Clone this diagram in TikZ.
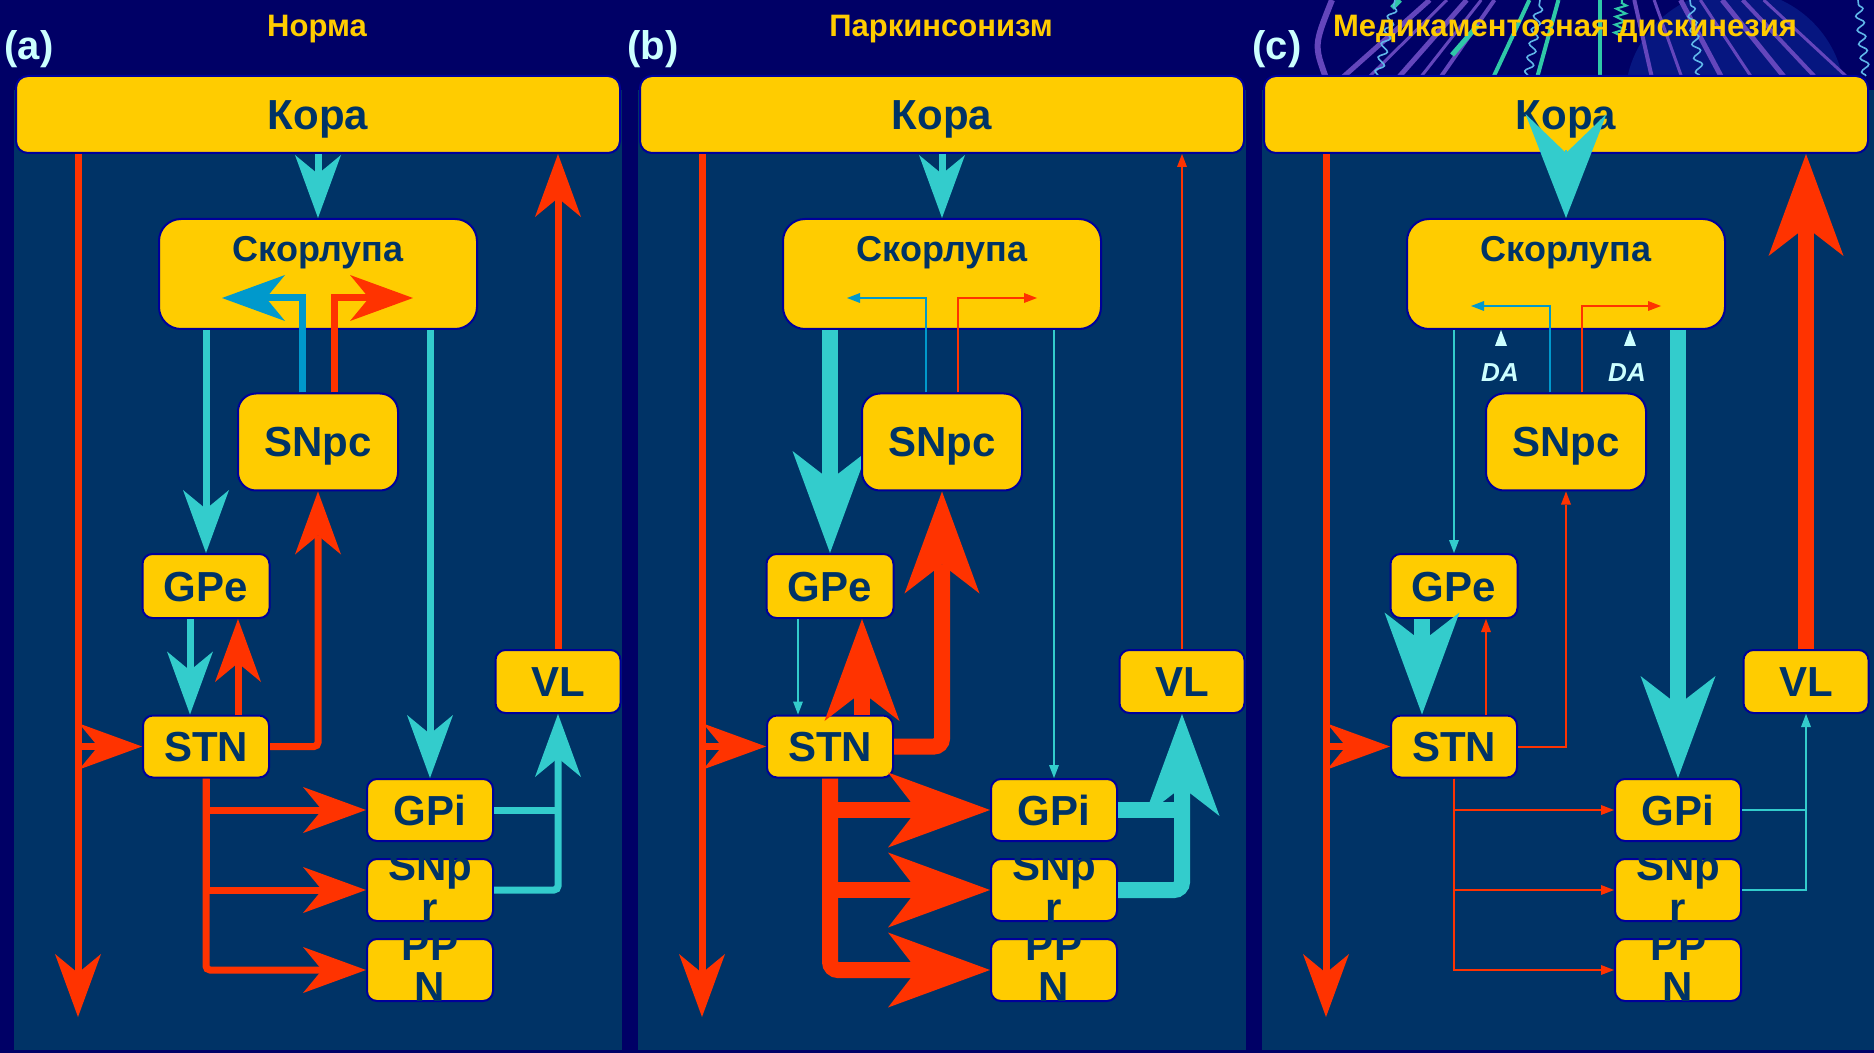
\documentclass[tikz,border=0pt]{standalone}
\usepackage{fontspec}
\setmainfont{Liberation Sans}
\usetikzlibrary{arrows.meta,calc,decorations.pathmorphing}
\pgfdeclarelayer{back}
\pgfdeclarelayer{mid}
\pgfsetlayers{back,mid,main}
\definecolor{bgnavy}{HTML}{000066}
\definecolor{panelc}{HTML}{003366}
\definecolor{boxfill}{HTML}{FFCC00}
\definecolor{boxline}{HTML}{000099}
\definecolor{txtc}{HTML}{003366}
\definecolor{redc}{HTML}{FF3300}
\definecolor{cyanc}{HTML}{33CCCC}
\definecolor{bluec}{HTML}{0099CC}
\definecolor{titlec}{HTML}{FFCC00}
\definecolor{labc}{HTML}{CCFFFF}
\definecolor{purpc}{HTML}{6446BC}
\definecolor{tealc}{HTML}{2FC8A8}
\definecolor{wavc}{HTML}{5FB6E8}
\definecolor{blobc}{HTML}{061680}
\tikzset{
  box/.style={draw=boxline, line width=1pt, fill=boxfill, inner sep=0pt, text=txtc,
    font=\fontsize{21pt}{21pt}\selectfont\bfseries, text height=15pt, text depth=0pt,
    rounded corners=5pt, minimum width=63pt, minimum height=31pt},
  korabox/.style={box, minimum width=302pt, minimum height=38.5pt, rounded corners=6pt},
  skorbox/.style={box, minimum width=159pt, minimum height=55pt, rounded corners=11pt},
  snpcbox/.style={box, minimum width=80pt, minimum height=48.5pt, rounded corners=9pt},
  btxt/.style={inner sep=0pt, text=txtc, font=\fontsize{21pt}{21pt}\selectfont\bfseries},
  skt/.style={inner sep=0pt, text=txtc, font=\fontsize{18pt}{18pt}\selectfont\bfseries},
  ttl/.style={inner sep=0pt, text=titlec, font=\fontsize{15.5pt}{15.5pt}\selectfont\bfseries},
  plab/.style={inner sep=0pt, text=labc, font=\fontsize{20pt}{20pt}\selectfont\bfseries},
  datxt/.style={inner sep=0pt, text=labc, font=\fontsize{13pt}{13pt}\selectfont\bfseries\itshape},
  rl/.style={draw=redc},
  cl/.style={draw=cyanc},
  bl/.style={draw=bluec},
  thinl/.style={line width=1pt},
  medl/.style={line width=3.5pt},
  thickl/.style={line width=8pt},
  smallhead/.style={-{Triangle[length=6.5pt,width=5pt,line width=0pt]}},
  medhead/.style={-{Stealth[length=31.5pt,width=23pt,inset=9.5pt,line width=0pt]}},
  largehead/.style={-{Stealth[length=51pt,width=37.5pt,inset=14.5pt,line width=0pt]}},
  hugehead/.style={-{Stealth[length=52pt,width=40.5pt,inset=19.5pt,line width=0pt]}},
}
\newcommand{\mkpanel}[3]{%
  \node[korabox] (kora-#1) at (#2+304,114.5) {Кора};
  \node[skorbox] (skor-#1) at (#2+304,274) {};
  \node[skt,anchor=base] (skt-#1) at (#2+304,262) {Скорлупа};
  \node[snpcbox] (snpc-#1) at (#2+304,442) {SNpc};
  \node[box,minimum width=63.5pt,minimum height=32pt] (gpe-#1) at (#2+192,586) {GPe};
  \node[box] (stn-#1) at (#2+192,746.5) {STN};
  \node[box,minimum width=62.5pt,minimum height=31.5pt] (vl-#1) at (#2+544,681.5) {VL};
  \node[box] (gpi-#1) at (#2+416,810) {GPi};
  \node[box] (snpr-#1) at (#2+416,890) {};
  \node[box] (ppn-#1) at (#2+416,970) {};
  \node[btxt,anchor=base] (snprt-#1) at (#2+416,880) {SNp};
  \node[btxt,anchor=base] (snprr-#1) at (#2+416,922) {r};
  \node[btxt,anchor=base] (ppnt-#1) at (#2+416,960) {PP};
  \node[btxt,anchor=base] (ppnn-#1) at (#2+416,1001) {N};
  \node[ttl,anchor=base] (ttl-#1) at (#2+303,37) {#3};
  \node[plab,anchor=base] (lab-#1) at (#2+15,60) {(#1)};
}
\begin{document}
\begin{tikzpicture}[x=0.5pt,y=-0.5pt]
\begin{pgfonlayer}{back}
  \fill[bgnavy] (0,0) rectangle (1874,1053);
  \useasboundingbox (0,0) rectangle (1874,1053);
  \fill[panelc] (14,90) rectangle (622,1050);
  \fill[panelc] (638,90) rectangle (1246,1050);
  \fill[panelc] (1262,90) rectangle (1874,1050);
  % decoration above panel c (fan of lines converging upwards)
  \begin{scope}
    \clip (1305,0) rectangle (1874,78);
    \fill[blobc] (1735,100) circle (110);
    \foreach \xb/\w in {1342/2.5,1368/1.5,1398/2.5,1420/1.5,1440/2,1652/2,1682/1.5,1722/2.5,1752/1.5,1785/2.5,1816/2,1848/1.5}
      \draw[purpc, line width=\w pt] (\xb,78) -- ({\xb+(1600-\xb)*0.34},0);
    \foreach \xb in {1493,1537,1600}
      \draw[tealc, line width=2pt] (\xb,78) -- ({\xb+(1600-\xb)*0.34},0);
    \draw[purpc, line width=3pt] (1326,78) .. controls (1314,45) .. (1332,0);
    \draw[tealc, line width=2.5pt] (1452,55) -- (1478,25);
    \draw[tealc, line width=2.5pt] (1392,8) -- (1400,0);
    \foreach \xa/\xt in {1378/1395,1528/1540,1700/1690,1866/1858}
      \draw[wavc, line width=0.8pt, decorate, decoration={snake, amplitude=2pt, segment length=7pt}] (\xa,76) -- (\xt,0);
    \draw[tealc, line width=1pt, decorate, decoration={zigzag, amplitude=2.5pt, segment length=4pt}] (1619,35) -- (1622,0);
  \end{scope}
\end{pgfonlayer}

\mkpanel{a}{14}{Норма}
\mkpanel{b}{638}{Паркинсонизм}
\mkpanel{c}{1262}{Медикаментозная дискинезия}

% ---------------- panel a ----------------
\coordinate (lbot-a) at (78,1017);
\coordinate (dbl-a) at (222,298);
\coordinate (drd-a) at (413,298);
\draw[rl,medl,medhead] (kora-a.south -| lbot-a) -- (lbot-a);
\draw[rl,medl,medhead] (stn-a.west -| lbot-a) -- (stn-a.west);
\draw[cl,medl,medhead] (kora-a.south) -- (skor-a.north);
\draw[rl,medl,medhead] (vl-a.north) -- (kora-a.south -| vl-a.north);
\draw[cl,medl,medhead] (skor-a.south -| gpe-a.north) -- (gpe-a.north);
\draw[cl,medl,medhead] (skor-a.south -| gpi-a.north) -- (gpi-a.north);
\draw[bl,medl,medhead] ([xshift=-8pt]snpc-a.north) |- (dbl-a);
\draw[rl,medl,medhead] ([xshift=8pt]snpc-a.north) |- (drd-a);
\draw[rl,medl,medhead,rounded corners=2pt] (stn-a.east) -| (snpc-a.south);
\draw[rl,medl,medhead] ([xshift=16pt]stn-a.north) -- ([xshift=16pt]gpe-a.south);
\draw[cl,medl,medhead] ([xshift=-8pt]gpe-a.south) -- ([xshift=-8pt]stn-a.north);
\draw[rl,medl,medhead] (stn-a.south) |- (gpi-a.west);
\draw[rl,medl,medhead] (stn-a.south) |- (snpr-a.west);
\draw[rl,medl,medhead,rounded corners=2pt] (stn-a.south) |- (ppn-a.west);
\draw[cl,medl] (gpi-a.east) -- (gpi-a.east -| vl-a.south);
\draw[cl,medl,medhead,rounded corners=2pt] (snpr-a.east) -| (vl-a.south);

% ---------------- panel b ----------------
\coordinate (lbot-b) at (702,1017);
\coordinate (dbl-b) at (847,298);
\coordinate (drd-b) at (1037,298);
\begin{pgfonlayer}{mid}
  \draw[cl,thickl,largehead] (skor-b.south -| gpe-b.north) -- (gpe-b.north);
\end{pgfonlayer}
\draw[rl,medl,medhead] (kora-b.south -| lbot-b) -- (lbot-b);
\draw[rl,medl,medhead] (stn-b.west -| lbot-b) -- (stn-b.west);
\draw[cl,medl,medhead] (kora-b.south) -- (skor-b.north);
\draw[rl,thinl,smallhead] (vl-b.north) -- (kora-b.south -| vl-b.north);
\draw[cl,thinl,smallhead] (skor-b.south -| gpi-b.north) -- (gpi-b.north);
\draw[bl,thinl,smallhead] ([xshift=-8pt]snpc-b.north) |- (dbl-b);
\draw[rl,thinl,smallhead] ([xshift=8pt]snpc-b.north) |- (drd-b);
\draw[rl,thickl,largehead,rounded corners=4pt] (stn-b.east) -| (snpc-b.south);
\draw[cl,thinl,smallhead] ([xshift=-16pt]gpe-b.south) -- ([xshift=-16pt]stn-b.north);
\draw[rl,thickl,largehead] ([xshift=16pt]stn-b.north) -- ([xshift=16pt]gpe-b.south);
\draw[rl,thickl,largehead] (stn-b.south) |- (gpi-b.west);
\draw[rl,thickl,largehead] (stn-b.south) |- (snpr-b.west);
\draw[rl,thickl,largehead,rounded corners=4pt] (stn-b.south) |- (ppn-b.west);
\draw[cl,thickl] (gpi-b.east) -- (gpi-b.east -| vl-b.south);
\draw[cl,thickl,largehead,rounded corners=4pt] (snpr-b.east) -| (vl-b.south);

% ---------------- panel c ----------------
\coordinate (lbot-c) at (1326,1017);
\coordinate (dbl-c) at (1471,306);
\coordinate (drd-c) at (1661,306);
\coordinate (kc-c) at (1566,150);
\draw[rl,medl,medhead] (kora-c.south -| lbot-c) -- (lbot-c);
\draw[rl,medl,medhead] (stn-c.west -| lbot-c) -- (stn-c.west);
\draw[cl,line width=1pt,hugehead] (kc-c) -- (skor-c.north);
\draw[rl,thickl,largehead] (vl-c.north) -- (kora-c.south -| vl-c.north);
\draw[cl,thinl,smallhead] (skor-c.south -| gpe-c.north) -- (gpe-c.north);
\draw[cl,thickl,largehead] (skor-c.south -| gpi-c.north) -- (gpi-c.north);
\draw[bl,thinl,smallhead] ([xshift=-8pt]snpc-c.north) |- (dbl-c);
\draw[rl,thinl,smallhead] ([xshift=8pt]snpc-c.north) |- (drd-c);
\draw[rl,thinl,smallhead] (stn-c.east) -| (snpc-c.south);
\draw[cl,thickl,largehead] ([xshift=-16pt]gpe-c.south) -- ([xshift=-16pt]stn-c.north);
\draw[rl,thinl,smallhead] ([xshift=16pt]stn-c.north) -- ([xshift=16pt]gpe-c.south);
\draw[rl,thinl,smallhead] (stn-c.south) |- (gpi-c.west);
\draw[rl,thinl,smallhead] (stn-c.south) |- (snpr-c.west);
\draw[rl,thinl,smallhead] (stn-c.south) |- (ppn-c.west);
\draw[cl,thinl] (gpi-c.east) -- (gpi-c.east -| vl-c.south);
\draw[cl,thinl,smallhead] (snpr-c.east) -| (vl-c.south);
% DA markers
\node[datxt,anchor=base] (da1-c) at (1500,382) {DA};
\node[datxt,anchor=base] (da2-c) at (1627,382) {DA};
\fill[labc] (1495,346) -- (1507,346) -- (1501,330) -- cycle;
\fill[labc] (1624,346) -- (1636,346) -- (1630,330) -- cycle;
\end{tikzpicture}
\end{document}
